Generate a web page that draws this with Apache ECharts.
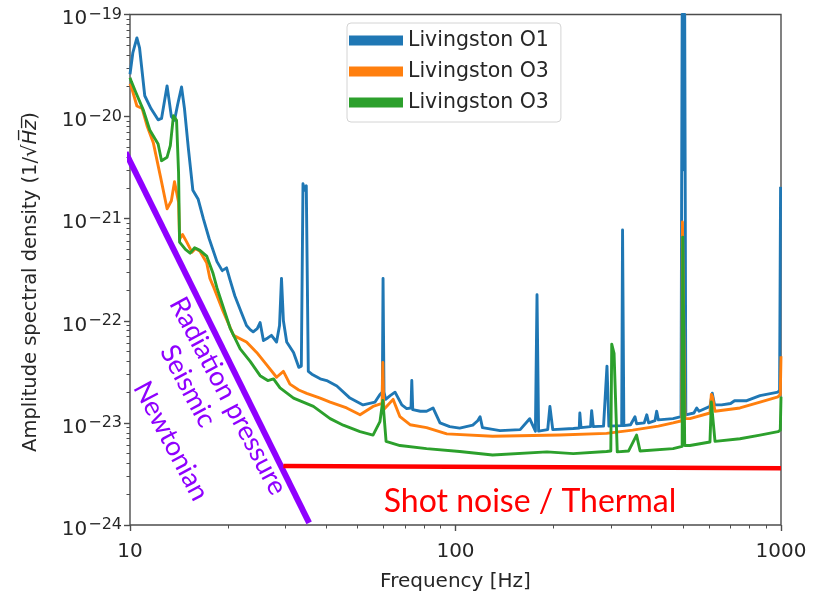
<!DOCTYPE html>
<html>
<head>
<meta charset="utf-8">
<script src="https://cdn.jsdelivr.net/npm/echarts@6/dist/echarts.min.js"></script>
<style>
  html, body { margin: 0; padding: 0; background: #ffffff; }
  #chart { width: 821px; height: 597px; }
</style>
</head>
<body>
<div id="chart"></div>
<script>
// Legend names (the second O3 name carries a trailing space so both traces keep their own entry)
const seriesNames = ['Livingston O1', 'Livingston O3', 'Livingston O3 '];
const seriesColors = ['#1f77b4', '#ff7f0e', '#2ca02c'];

// Livingston O1 amplitude spectral density [Hz, 1/sqrt(Hz)]
const o1Freq = [10.0, 10.2, 10.5, 10.7, 11.1, 11.6, 12.2, 12.5, 13.0, 13.4, 13.7, 14.0, 14.4, 14.7, 15.1, 15.6, 16.2, 16.8, 17.5, 18.5, 19.2, 19.8, 20.3, 21.0, 22.0, 22.8, 23.4, 23.9, 24.6, 25.1, 25.7, 26.5, 27.2, 28.2, 28.8, 29.2, 29.6, 30.3, 31.8, 33.0, 33.6, 34.0, 34.4, 34.8, 35.3, 36.2, 38.4, 40.2, 43.2, 47.4, 52.0, 56.6, 58.6, 59.6, 59.9, 60.3, 61.0, 63.0, 65.2, 68.4, 70.8, 73.0, 73.4, 73.9, 78.0, 81.5, 85.3, 89.6, 96, 103, 113, 117, 119, 121, 137, 158, 169, 176, 178, 180, 192, 195, 199, 230, 240, 241, 243, 260, 262, 265, 285, 292, 296, 324, 326, 329, 345, 356, 360, 380, 387, 392, 410, 415, 420, 466, 493, 495, 497, 499, 501.5, 504, 506, 508, 510, 540, 551, 560, 605, 615, 625, 657, 700, 720, 785, 862, 979, 990, 997, 1000];
const o1Asd = [2.6e-20, 4.2e-20, 5.9e-20, 4.7e-20, 1.6e-20, 1.2e-20, 9.3e-21, 9.6e-21, 2.0e-20, 1.0e-20, 9.2e-21, 1.3e-20, 1.95e-20, 1.2e-20, 5.0e-21, 1.9e-21, 1.55e-21, 1.0e-21, 6.4e-22, 3.8e-22, 3.1e-22, 3.3e-22, 2.5e-22, 1.75e-22, 1.2e-22, 9.0e-23, 8.2e-23, 7.8e-23, 8.4e-23, 9.6e-23, 6.4e-23, 6.8e-23, 7.2e-23, 6.2e-23, 9.0e-23, 2.6e-22, 1.0e-22, 6.2e-23, 4.9e-23, 3.5e-23, 3.6e-23, 2.2e-21, 1.9e-21, 2.1e-21, 3.2e-23, 3.0e-23, 2.7e-23, 2.6e-23, 2.3e-23, 1.75e-23, 1.5e-23, 1.6e-23, 1.9e-23, 2.0e-23, 2.6e-22, 2.0e-23, 1.7e-23, 1.85e-23, 2.0e-23, 1.5e-23, 1.38e-23, 1.4e-23, 2.6e-23, 1.35e-23, 1.3e-23, 1.3e-23, 1.4e-23, 1.0e-23, 9.2e-24, 8.9e-24, 9.5e-24, 1.05e-23, 1.15e-23, 9.0e-24, 8.4e-24, 8.6e-24, 1.1e-23, 8.3e-24, 1.8e-22, 8.3e-24, 8.6e-24, 1.45e-23, 8.6e-24, 8.8e-24, 8.9e-24, 1.25e-23, 9.0e-24, 9.2e-24, 1.32e-23, 9.2e-24, 9.3e-24, 3.6e-23, 9.3e-24, 9.4e-24, 7.75e-22, 9.4e-24, 9.6e-24, 1.15e-23, 9.8e-24, 1.0e-23, 1.2e-23, 1.0e-23, 1.05e-23, 1.3e-23, 1.07e-23, 1.1e-23, 1.15e-23, 1.3e-21, 1.0e-19, 3.0e-21, 1.0e-19, 3.0e-21, 1.0e-19, 1.5e-21, 1.2e-23, 1.25e-23, 1.4e-23, 1.3e-23, 1.45e-23, 1.95e-23, 1.5e-23, 1.5e-23, 1.55e-23, 1.65e-23, 1.65e-23, 1.85e-23, 2.0e-23, 2.1e-23, 2.05e-21, 2.05e-21];

// Livingston O3 amplitude spectral density, first trace
const o3aFreq = [10.0, 10.1, 10.5, 10.9, 11.3, 11.8, 12.4, 13.0, 13.4, 13.7, 14.1, 14.2, 14.5, 14.9, 15.5, 15.9, 16.4, 17.2, 17.6, 18.0, 19.3, 20.8, 22.8, 24.5, 26.3, 28.2, 29.6, 31.0, 33.0, 34.9, 38.4, 41.2, 46.3, 50.9, 55.8, 59.5, 59.8, 60.2, 62.0, 64.3, 67.5, 72.5, 81.5, 94, 130, 209, 291, 350, 420, 466, 496, 498, 505, 507, 525, 605, 611, 616, 627, 748, 862, 979, 995, 1000];
const o3aAsd = [2.1e-20, 1.95e-20, 1.27e-20, 1.2e-20, 8.0e-21, 5.5e-21, 2.6e-21, 1.25e-21, 1.5e-21, 2.3e-21, 1.45e-21, 6.3e-22, 7.0e-22, 6.0e-22, 4.7e-22, 5.1e-22, 4.8e-22, 3.7e-22, 2.6e-22, 2.2e-22, 1.25e-22, 7.2e-23, 6.2e-23, 4.9e-23, 3.7e-23, 2.8e-23, 3.2e-23, 2.4e-23, 2.1e-23, 1.95e-23, 1.75e-23, 1.6e-23, 1.4e-23, 1.2e-23, 1.45e-23, 1.55e-23, 3.9e-23, 1.35e-23, 1.5e-23, 1.7e-23, 1.15e-23, 9.6e-24, 9.0e-24, 7.8e-24, 7.4e-24, 7.6e-24, 7.9e-24, 8.5e-24, 9.3e-24, 1.0e-23, 1.05e-23, 9.3e-22, 9.3e-22, 1.1e-23, 1.1e-23, 1.25e-23, 1.9e-23, 1.8e-23, 1.3e-23, 1.4e-23, 1.6e-23, 1.8e-23, 1.9e-23, 4.5e-23];

// Livingston O3 amplitude spectral density, second trace
const o3bFreq = [10.0, 10.1, 10.4, 11.0, 11.5, 12.2, 12.5, 13.0, 13.3, 13.6, 13.9, 14.1, 14.2, 14.8, 15.3, 15.8, 16.4, 17.2, 18.0, 18.5, 20.3, 21.8, 23.4, 25.1, 26.5, 27.6, 28.9, 31.8, 36.6, 41.2, 45.2, 50.9, 55.8, 58.6, 59.8, 61.2, 67.5, 81.5, 103, 130, 191, 230, 291, 300, 302, 307, 311, 314, 340, 360, 369, 466, 497, 499, 504, 506, 525, 605, 611, 618, 627, 748, 862, 979, 995, 1000];
const o3bAsd = [2.4e-20, 2.2e-20, 1.75e-20, 1.15e-20, 7.4e-21, 5.4e-21, 3.7e-21, 4.0e-21, 5.2e-21, 1.02e-20, 9.2e-21, 2.8e-21, 5.9e-22, 5.0e-22, 4.6e-22, 5.2e-22, 4.9e-22, 4.3e-22, 2.9e-22, 2.1e-22, 8.5e-23, 5.3e-23, 4.0e-23, 2.9e-23, 2.6e-23, 2.7e-23, 2.2e-23, 1.75e-23, 1.45e-23, 1.1e-23, 9.5e-24, 8.2e-24, 7.6e-24, 1.03e-23, 1.66e-23, 6.6e-24, 6.0e-24, 5.6e-24, 5.25e-24, 4.85e-24, 5.2e-24, 5.0e-24, 5.25e-24, 5.3e-24, 5.9e-23, 4.8e-23, 5.0e-23, 5.2e-24, 5.3e-24, 7.6e-24, 5.3e-24, 5.6e-24, 5.9e-24, 6.6e-22, 6.6e-22, 6.0e-24, 6.0e-24, 6.5e-24, 1.6e-23, 1.55e-23, 6.6e-24, 7.0e-24, 7.6e-24, 8.2e-24, 8.5e-24, 1.8e-23];

// Noise-budget guide lines: low-frequency wall and flat shot/thermal floor
const lowFreqGuideFreq = [9.7, 35.5];
const lowFreqGuideAsd = [4.45e-21, 1.05e-24];
const shotGuideFreq = [29.6, 1000];
const shotGuideAsd = [3.78e-24, 3.59e-24];

// Axis ranges and tick positions
const freqRange = [10, 1000];
const asdExponents = [-24, -23, -22, -21, -20, -19];
const freqMajorTicks = [10, 100, 1000];

function minorLogTicks(firstExp, lastExp) {
  const out = [];
  for (let e = firstExp; e < lastExp; e++) {
    for (let k = 2; k <= 9; k++) out.push(k * Math.pow(10, e));
  }
  return out;
}
const freqMinorTicks = minorLogTicks(1, 3);
const asdMinorTicks = minorLogTicks(-24, -19);
const asdMajorTicks = asdExponents.map(e => Math.pow(10, e));

function pairs(xs, ys) { return xs.map((x, i) => [x, ys[i]]); }

const chart = echarts.init(document.getElementById('chart'), null, { renderer: 'canvas' });

const textColor = '#262626';
const spineColor = '#4d4d4d';
const grid = { left: 130, right: 40, top: 13, bottom: 70 };

const traces = [[o1Freq, o1Asd], [o3aFreq, o3aAsd], [o3bFreq, o3bAsd]].map((t, i) => ({
  name: seriesNames[i],
  type: 'line',
  data: pairs(t[0], t[1]),
  color: seriesColors[i],
  showSymbol: false,
  symbol: 'none',
  lineStyle: { width: 2.9, color: seriesColors[i], join: 'round' },
  z: 2 + i,
  silent: true
}));

const guides = [
  { data: pairs(lowFreqGuideFreq, lowFreqGuideAsd), color: '#8f00ff', width: 6 },
  { data: pairs(shotGuideFreq, shotGuideAsd), color: '#ff0000', width: 4.5 }
].map(g => ({
  type: 'line',
  data: g.data,
  showSymbol: false,
  symbol: 'none',
  clip: false,
  silent: true,
  lineStyle: { width: g.width, color: g.color, cap: 'butt' },
  z: 6
}));

// Minor-tick helper axes share the main axis ranges and only draw ticks
function minorAxis(range, ticks, position) {
  return {
    type: 'log',
    logBase: 10,
    min: range[0],
    max: range[1],
    position: position,
    axisLine: { show: false },
    axisTick: { show: true, inside: false, length: 3.5, customValues: ticks, lineStyle: { color: spineColor, width: 1 } },
    axisLabel: { show: false },
    splitLine: { show: false }
  };
}

const option = {
  animation: false,
  backgroundColor: '#ffffff',
  grid: Object.assign({ show: true, borderColor: spineColor, borderWidth: 1.4, backgroundColor: 'transparent' }, grid),
  legend: {
    data: seriesNames,
    orient: 'vertical',
    left: 347,
    top: 23,
    padding: [6, 12, 8, 2],
    itemWidth: 54,
    itemHeight: 10,
    itemGap: 8,
    icon: 'rect',
    backgroundColor: 'rgba(255,255,255,0.85)',
    borderColor: '#d4d4d4',
    borderWidth: 1,
    borderRadius: 4,
    formatter: name => name.trim(),
    textStyle: { fontFamily: 'DejaVu Sans', fontSize: 20.5, lineHeight: 23, color: textColor }
  },
  xAxis: [{
    type: 'log',
    logBase: 10,
    min: freqRange[0],
    max: freqRange[1],
    position: 'bottom',
    name: 'Frequency [Hz]',
    nameLocation: 'middle',
    nameGap: 47,
    nameTextStyle: { fontFamily: 'DejaVu Sans', fontSize: 20, color: textColor },
    axisLine: { show: false },
    axisTick: { show: true, inside: false, length: 6, customValues: freqMajorTicks, lineStyle: { color: spineColor, width: 1.4 } },
    axisLabel: { customValues: freqMajorTicks, margin: 17, fontFamily: 'DejaVu Sans', fontSize: 20, color: textColor, formatter: v => String(Math.round(v)) },
    splitLine: { show: false }
  }, minorAxis(freqRange, freqMinorTicks, 'bottom')],
  yAxis: [{
    type: 'log',
    logBase: 10,
    min: asdMajorTicks[0],
    max: asdMajorTicks[asdMajorTicks.length - 1],
    position: 'left',
    axisLine: { show: false },
    axisTick: { show: true, inside: false, length: 6, customValues: asdMajorTicks, lineStyle: { color: spineColor, width: 1.4 } },
    axisLabel: {
      customValues: asdMajorTicks,
      margin: 8,
      color: textColor,
      formatter: v => '{b|10}{s|\u2212' + Math.abs(Math.round(Math.log10(v))) + '}',
      rich: {
        b: { fontFamily: 'DejaVu Sans', fontSize: 20, lineHeight: 22, padding: [9, 0, 0, 0], color: textColor },
        s: { fontFamily: 'DejaVu Sans', fontSize: 16, lineHeight: 16, padding: [3, 0, 0, 1], verticalAlign: 'top', color: textColor }
      }
    },
    splitLine: { show: false }
  }, minorAxis([asdMajorTicks[0], asdMajorTicks[asdMajorTicks.length - 1]], asdMinorTicks, 'left')],
  series: traces.concat(guides),
  graphic: [
    { type: 'text', x: 31, y: 282, rotation: Math.PI / 2, z: 10,
      style: {
        text: '{t|Amplitude spectral density (1/√}{i|H\u0305z\u0305}{t|)}',
        align: 'center', verticalAlign: 'middle',
        rich: {
          t: { fontFamily: 'DejaVu Sans', fontSize: 19.5, fill: textColor },
          i: { fontFamily: 'DejaVu Sans', fontStyle: 'italic', fontSize: 19.5, fill: textColor }
        }
      } },
    { type: 'text', x: 228, y: 396, rotation: -62 * Math.PI / 180, z: 10,
      style: { text: 'Radiation pressure', fill: '#8f00ff', fontFamily: 'Lato', fontSize: 27, align: 'center', verticalAlign: 'middle' } },
    { type: 'text', x: 188, y: 386, rotation: -62 * Math.PI / 180, z: 10,
      style: { text: 'Seismic', fill: '#8f00ff', fontFamily: 'Lato', fontSize: 27, align: 'center', verticalAlign: 'middle' } },
    { type: 'text', x: 171, y: 441, rotation: -62 * Math.PI / 180, z: 10,
      style: { text: 'Newtonian', fill: '#8f00ff', fontFamily: 'Lato', fontSize: 27, align: 'center', verticalAlign: 'middle' } },
    { type: 'text', x: 530, y: 502, z: 10,
      style: { text: 'Shot noise / Thermal', fill: '#ff0000', fontFamily: 'Lato', fontSize: 32, align: 'center', verticalAlign: 'middle' } }
  ]
};

chart.setOption(option);
</script>
</body>
</html>
